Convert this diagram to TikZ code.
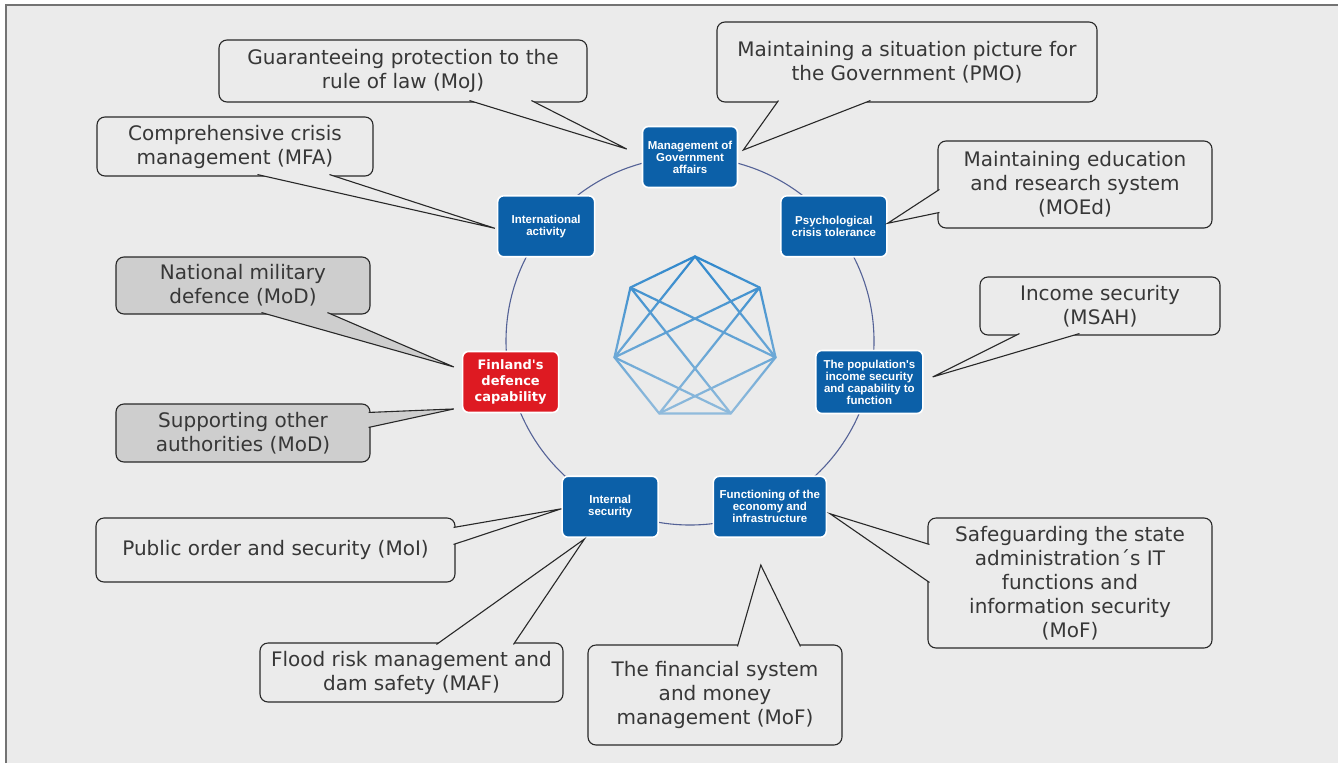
\documentclass[tikz,border=0pt]{standalone}
\usepackage{fontspec}
\usepackage{tikz}
\usetikzlibrary{calc,fadings}

\newfontfamily\callfont{DejaVu Sans}
\newfontfamily\boxfont{Liberation Sans}
\newfontfamily\redfont{DejaVu Sans}

\definecolor{paper}{RGB}{235,235,235}
\definecolor{framecol}{RGB}{115,115,115}
\definecolor{secblue}{RGB}{12,96,168}
\definecolor{secred}{RGB}{222,26,34}
\definecolor{ringcol}{RGB}{84,98,150}
\definecolor{starcol}{RGB}{44,134,204}
\definecolor{calltext}{RGB}{55,55,55}
\definecolor{callline}{RGB}{40,40,40}
\definecolor{callgray}{RGB}{206,206,206}

\begin{document}
\begin{tikzpicture}[x=1pt,y=-1pt,
  sector/.style={draw=white, line width=1.6pt, fill=secblue, rounded corners=6pt, text=white,
    font=\boxfont\bfseries\fontsize{11.5}{12}\selectfont, align=center, minimum height=61pt, inner sep=1pt},
  defence/.style={sector, fill=secred, font=\redfont\bfseries\fontsize{13}{16}\selectfont},
  callout/.style={draw=callline, line width=1.1pt, fill=paper, rounded corners=8pt, text=calltext,
    font=\callfont\fontsize{20}{24}\selectfont, align=center, inner sep=2pt},
  mod/.style={callout, fill=callgray},
  pointer/.style={draw=callline, line width=1.1pt, fill=paper},
  ring/.style={draw=ringcol, line width=1.1pt},
  star/.style={draw=starcol, line width=2.2pt, line join=round, line cap=round}]

  \useasboundingbox (0,0) rectangle (1338,763);
  \fill[white] (0,0) rectangle (1338,763);
  \fill[paper] (6,5) rectangle (1338,763);
  \draw[framecol, line width=2pt] (6,763) -- (6,5) -- (1338,5);

  % ring and heptagon
  \coordinate (ring) at (690,341);
  \coordinate (hept) at (695,339);
  \draw[ring] (ring) circle[radius=184];
  \foreach \i in {0,...,6}
    \coordinate (h\i) at ($(hept)+({-90+\i*360/7}:82.6)$);
  \draw[star] (h0) -- (h1) -- (h2) -- (h3) -- (h4) -- (h5) -- (h6) -- cycle;
  \draw[star] (h5) -- (h0) -- (h2) -- (h4) -- (h1) -- (h5) -- (h3) -- (h6) -- (h2);
  \fill[paper, opacity=0.55, path fading=north] (600,250) rectangle (790,420);

  % sectors
  \node[sector, minimum width=95pt]  (mga)  at ($(ring)+(-90:184)$)     {Management of\\Government\\affairs};
  \node[sector, minimum width=106pt] (psy)  at ($(ring)+(-38.57:184)$)  {Psychological\\crisis tolerance};
  \node[sector, minimum width=107pt, minimum height=63pt] (pop) at ($(ring)+(12.86:184)$) {The population's\\income security\\and capability to\\function};
  \node[sector, minimum width=113pt] (fun)  at ($(ring)+(64.29:184)$)   {Functioning of the\\economy and\\infrastructure};
  \node[sector, minimum width=96pt]  (ins)  at ($(ring)+(115.71:184)$)  {Internal\\security};
  \node[defence, minimum width=96pt] (def)  at ($(ring)+(167.14:184)$)  {Finland's\\defence\\capability};
  \node[sector, minimum width=97pt]  (intl) at ($(ring)+(-141.43:184)$) {International\\activity};

  % callouts
  \node[callout, minimum width=368pt, minimum height=62pt]  (moj)   at (403,71)     {Guaranteeing protection to the\\rule of law (MoJ)};
  \node[callout, minimum width=380pt, minimum height=80pt]  (pmo)   at (907,62)     {Maintaining a situation picture for\\the Government (PMO)};
  \node[callout, minimum width=276pt, minimum height=59pt]  (mfa)   at (235,146.5)  {Comprehensive crisis\\management (MFA)};
  \node[callout, minimum width=274pt, minimum height=87pt]  (moed)  at (1075,184.5) {Maintaining education\\and research system\\(MOEd)};
  \node[callout, minimum width=240pt, minimum height=58pt]  (msah)  at (1100,306)   {Income security\\(MSAH)};
  \node[mod, minimum width=254pt, minimum height=57pt]      (nmd)   at (243,285.5)  {National military\\defence (MoD)};
  \node[mod, minimum width=254pt, minimum height=58pt]      (soa)   at (243,433)    {Supporting other\\authorities (MoD)};
  \node[callout, minimum width=359pt, minimum height=64pt]  (moi)   at (275.5,550)  {Public order and security (MoI)};
  \node[callout, minimum width=303pt, minimum height=59pt]  (maf)   at (411.5,672.5) {Flood risk management and\\dam safety (MAF)};
  \node[callout, minimum width=254pt, minimum height=100pt] (fms)   at (715,695)    {The financial system\\and money\\management (MoF)};
  \node[callout, minimum width=284pt, minimum height=130pt] (itsec) at (1070,583)   {Safeguarding the state\\administration´s IT\\functions and\\information security\\(MoF)};

  % pointers
  \path[pointer] ($(moj.south west)+(251,-2)$) -- ($(mga.west)+(-15,-8)$) -- ($(moj.south west)+(313,-2)$);
  \path[pointer] ($(pmo.south west)+(62,-2)$) -- ($(mga.east)+(5,-7)$) -- ($(pmo.south west)+(154,-2)$);
  \path[pointer] ($(mfa.south west)+(161,-2)$) -- ($(intl.west)+(-2,2)$) -- ($(mfa.south west)+(233,-2)$);
  \path[pointer] ($(moed.north west)+(2,49)$) -- ($(psy.east)+(0,-3)$) -- ($(moed.north west)+(2,72)$);
  \path[pointer] ($(msah.south west)+(40,-2)$) -- ($(pop.east)+(9,-5)$) -- ($(msah.south west)+(100,-2)$);
  \path[pointer, fill=callgray] ($(nmd.south west)+(146,-2)$) -- ($(def.west)+(-8,-15)$) -- ($(nmd.south west)+(212,-2)$);
  \path[pointer, fill=callgray] ($(soa.north east)+(-2,9)$) -- ($(def.west)+(-8,27)$) -- ($(soa.north east)+(-2,24)$);
  \path[pointer] ($(moi.north east)+(-2,10)$) -- ($(ins.west)+(0,2)$) -- ($(moi.north east)+(-2,27)$);
  \path[pointer] ($(maf.north west)+(177,2)$) -- ($(ins.south west)+(23,1)$) -- ($(maf.north west)+(254,2)$);
  \path[pointer] ($(fms.north west)+(150,2)$) -- ($(fun.south)+(-9,27)$) -- ($(fms.north west)+(213,2)$);
  \path[pointer] ($(itsec.north west)+(2,27)$) -- ($(fun.east)+(3,7)$) -- ($(itsec.north west)+(2,65)$);

\end{tikzpicture}
\end{document}
